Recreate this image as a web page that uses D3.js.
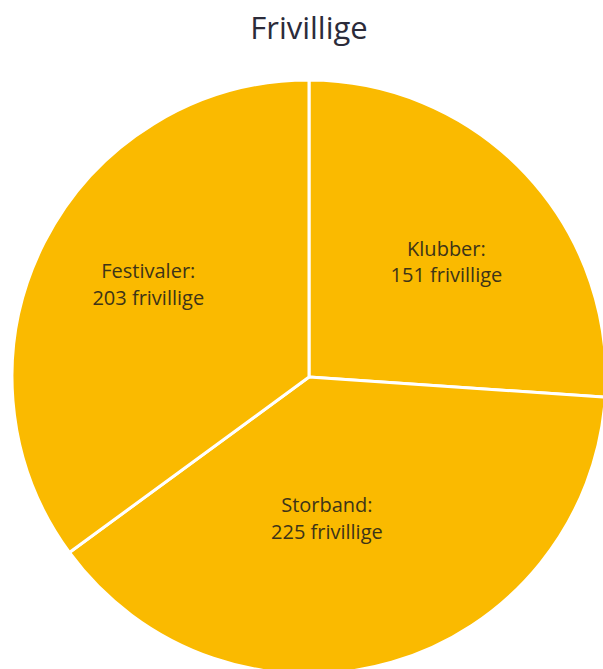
<!DOCTYPE html>
<html><head><meta charset="utf-8">
<script src="https://cdn.jsdelivr.net/npm/d3@7"></script>
<style>html,body{margin:0;padding:0;background:#fff;overflow:hidden}</style>
</head><body>
<script>
const categories = ["Klubber", "Storband", "Festivaler"];
const values = [151, 225, 203];
const unit = "frivillige";
const title = "Frivillige";

const W = 603, H = 669;
const cx = 309, cy = 377, R = 297;
const FONT = "'Open Sans', Lato, sans-serif";
const svg = d3.select("body").append("svg").attr("width", W).attr("height", H);

svg.append("text").attr("x", cx).attr("y", 39).attr("text-anchor", "middle")
  .attr("font-family", FONT).attr("font-size", 31)
  .attr("fill", "#2b2b3a").text(title);

const data = categories.map((c, i) => ({cat: c, value: values[i]}));
const pie = d3.pie().value(d => d.value).sort(null);
const arcs = pie(data);
const arc = d3.arc().innerRadius(0).outerRadius(R);
// label placement (style): radius fraction and angular nudge in degrees
const labelR = [0.61, 0.47, 0.63];
const labelNudge = [2.4, 8.8, 3.9];

const g = svg.append("g").attr("transform", `translate(${cx},${cy})`);
g.selectAll("path").data(arcs).join("path")
  .attr("d", arc).attr("fill", "#FABA00").attr("stroke", "#fff").attr("stroke-width", 3)
  .attr("stroke-linejoin", "round");

arcs.forEach((a, i) => {
  const ang = (a.startAngle + a.endAngle) / 2 + labelNudge[i] * Math.PI / 180;
  const r = R * labelR[i];
  const x = r * Math.sin(ang), y = -r * Math.cos(ang);
  const t = g.append("text").attr("x", x).attr("y", y).attr("text-anchor", "middle")
    .attr("font-family", FONT).attr("font-size", 20)
    .attr("fill", "#3d3418");
  t.append("tspan").attr("x", x).attr("dy", "-0.15em").text(a.data.cat + ":");
  t.append("tspan").attr("x", x).attr("dy", "1.32em").text(a.data.value + " " + unit);
});
</script>
</body></html>
